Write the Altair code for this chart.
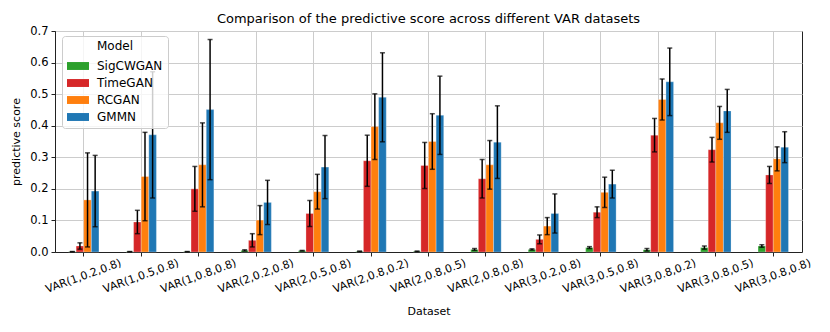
import altair as alt
import pandas as pd

datasets = ["VAR(1,0.2,0.8)", "VAR(1,0.5,0.8)", "VAR(1,0.8,0.8)", "VAR(2,0.2,0.8)",
            "VAR(2,0.5,0.8)", "VAR(2,0.8,0.2)", "VAR(2,0.8,0.5)", "VAR(2,0.8,0.8)",
            "VAR(3,0.2,0.8)", "VAR(3,0.5,0.8)", "VAR(3,0.8,0.2)", "VAR(3,0.8,0.5)",
            "VAR(3,0.8,0.8)"]
models = ["SigCWGAN", "TimeGAN", "RCGAN", "GMMN"]
colors = ["#2ca02c", "#d62728", "#ff7f0e", "#1f77b4"]
y_ticks = [0.0, 0.1, 0.2, 0.3, 0.4, 0.5, 0.6, 0.7]

sig_mean = [0.001, 0.001, 0.001, 0.005, 0.004, 0.002, 0.002, 0.008, 0.008, 0.014, 0.007, 0.014, 0.019]
sig_std = [0.0005, 0.0005, 0.0005, 0.002, 0.001, 0.001, 0.001, 0.003, 0.002, 0.003, 0.004, 0.005, 0.004]
tg_mean = [0.019, 0.095, 0.200, 0.037, 0.122, 0.289, 0.274, 0.232, 0.040, 0.126, 0.370, 0.324, 0.244]
tg_std = [0.010, 0.037, 0.071, 0.021, 0.041, 0.081, 0.073, 0.061, 0.014, 0.017, 0.053, 0.039, 0.027]
rc_mean = [0.165, 0.239, 0.276, 0.101, 0.191, 0.397, 0.350, 0.276, 0.082, 0.189, 0.483, 0.409, 0.295]
rc_std = [0.149, 0.140, 0.133, 0.046, 0.055, 0.104, 0.088, 0.077, 0.027, 0.048, 0.065, 0.052, 0.038]
gm_mean = [0.193, 0.371, 0.451, 0.157, 0.269, 0.490, 0.433, 0.348, 0.122, 0.215, 0.539, 0.447, 0.332]
gm_std = [0.113, 0.200, 0.222, 0.070, 0.100, 0.141, 0.124, 0.115, 0.062, 0.044, 0.107, 0.068, 0.049]

means = {"SigCWGAN": sig_mean, "TimeGAN": tg_mean, "RCGAN": rc_mean, "GMMN": gm_mean}
stds = {"SigCWGAN": sig_std, "TimeGAN": tg_std, "RCGAN": rc_std, "GMMN": gm_std}

rows = []
for m in models:
    for d, mu, sd in zip(datasets, means[m], stds[m]):
        rows.append(dict(Dataset=d, Model=m, score=mu, lo=mu - sd, hi=mu + sd))
df = pd.DataFrame(rows)

FONT = "DejaVu Sans"

x = alt.X("Dataset:N", sort=datasets,
          scale=alt.Scale(paddingInner=0.47, paddingOuter=0.235),
          axis=alt.Axis(title="Dataset", labelAngle=340, labelAlign="center",
                        labelBaseline="middle", labelPadding=20, tickSize=4,
                        labelFontSize=11, titleFontSize=11, titleFontWeight="normal",
                        titleY=59, titleBaseline="middle", labelOverlap=False,
                        labelColor="black", titleColor="black", grid=True))
xo = alt.XOffset("Model:N", sort=models, scale=alt.Scale(paddingInner=0, paddingOuter=0))
y_axis = alt.Axis(title="predictive score", values=y_ticks, tickCount=8,
                  format=".1f", tickSize=4, labelPadding=3, labelFontSize=11.5,
                  titleFontSize=11, titleFontWeight="normal", titlePadding=8,
                  labelOverlap=False, labelColor="black", titleColor="black")
y_scale = alt.Scale(domain=[0, 0.7], nice=False)

base = alt.Chart(df)

bars = base.mark_bar(stroke="white", strokeWidth=0.8, strokeOpacity=0.35).encode(
    x=x, xOffset=xo,
    y=alt.Y("score:Q", scale=y_scale, axis=y_axis),
    color=alt.Color("Model:N", sort=models,
                    scale=alt.Scale(domain=models, range=colors),
                    legend=alt.Legend(title="Model", orient="none", legendX=7, legendY=5,
                                      titleAnchor="middle", titleFontSize=12,
                                      titleFontWeight="normal", labelFontSize=12,
                                      titlePadding=2,
                                      symbolType="M-1,-0.36H1V0.36H-1Z", symbolSize=484,
                                      symbolStrokeWidth=0, symbolOpacity=1,
                                      labelOffset=8, rowPadding=0, padding=5,
                                      fillColor="rgba(255,255,255,0.8)",
                                      strokeColor="#cccccc", cornerRadius=3,
                                      labelColor="black", titleColor="black")),
)

err = base.mark_rule(color="black", strokeWidth=1.5).encode(
    x=x, xOffset=xo, y=alt.Y("lo:Q", scale=y_scale, axis=y_axis), y2="hi:Q")
cap_hi = base.mark_tick(color="black", size=5, thickness=1.5).encode(
    x=x, xOffset=xo, y=alt.Y("hi:Q", scale=y_scale, axis=y_axis))
cap_lo = base.mark_tick(color="black", size=5, thickness=1.5).encode(
    x=x, xOffset=xo, y=alt.Y("lo:Q", scale=y_scale, axis=y_axis))

chart = alt.layer(bars, err, cap_hi, cap_lo).properties(
    width=747, height=221,
    title=alt.TitleParams("Comparison of the predictive score across different VAR datasets",
                          fontSize=13, fontWeight="normal", offset=7, dy=8, color="black"),
    autosize=alt.AutoSizeParams(type="none"),
    padding={"left": 47, "top": 23, "right": 20, "bottom": 70},
).configure(font=FONT).configure_view(
    stroke="#222222", strokeWidth=1
).configure_axis(
    gridColor="#cccccc", gridWidth=1, domainColor="#222222", tickColor="#222222",
    labelFont=FONT, titleFont=FONT
)

chart.save("out.html", embed_options={"renderer": "svg", "actions": False})
